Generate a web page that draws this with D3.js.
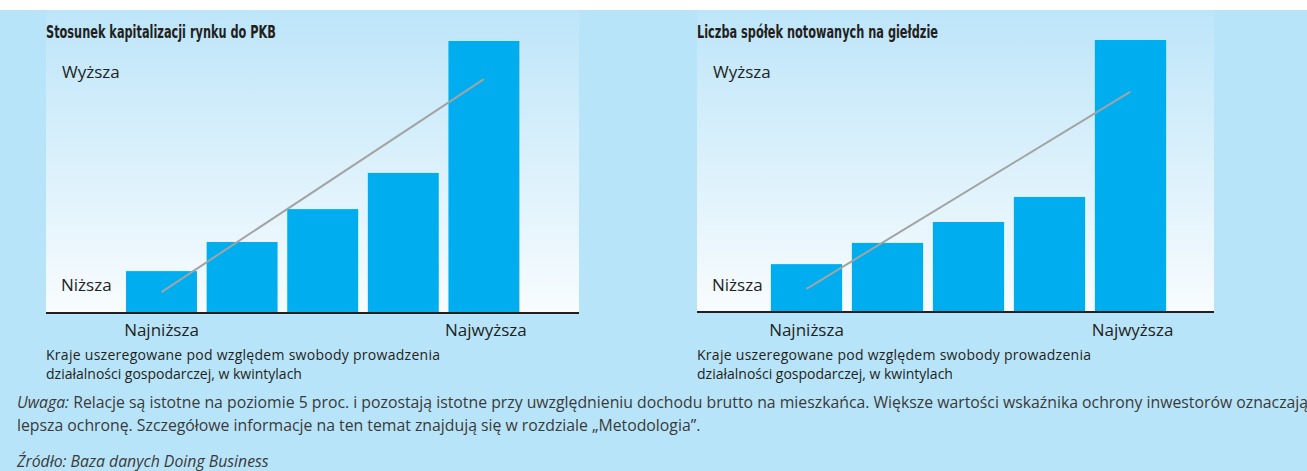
<!DOCTYPE html>
<html>
<head>
<meta charset="utf-8">
<script src="https://cdn.jsdelivr.net/npm/d3@7"></script>
<style>
  body { margin: 0; background: #fff; }
  svg text { font-family: "Open Sans", "Noto Sans", sans-serif; fill: #231f20; }
  .title { font-family: "Liberation Sans Narrow", "DejaVu Sans Condensed", sans-serif; font-weight: bold; font-size: 17px; }
  .note { fill: #3a3a3a; font-size: 15.8px; }
</style>
</head>
<body>
<div id="chart"></div>
<script>
var svgWidth = 1307;
var svgHeight = 471;

// quintiles of ease of doing business
var quintiles = ["Q1", "Q2", "Q3", "Q4", "Q5"];

// left panel: market capitalisation to GDP (relative, max = 100)
var capValues = [15.4, 26.1, 38.2, 51.5, 100];
var capTrend = [7.7, 86];

// right panel: number of listed companies (relative, max = 100)
var listedValues = [17.6, 25.4, 33.1, 42.3, 100];
var listedTrend = [8.5, 81];

var titles = ["Stosunek kapitalizacji rynku do PKB", "Liczba spółek notowanych na giełdzie"];
var yLabels = ["Wyższa", "Niższa"];
var xLabels = ["Najniższa", "Najwyższa"];
var subLines = ["Kraje uszeregowane pod względem swobody prowadzenia",
	"działalności gospodarczej, w kwintylach"];

var svg = d3.select("#chart")
	.append("svg")
	.attr("width", svgWidth)
	.attr("height", svgHeight);

var defs = svg.append("defs");
var grad = defs.append("linearGradient")
	.attr("id", "panelGrad")
	.attr("x1", 0).attr("y1", 0).attr("x2", 0).attr("y2", 1);
grad.append("stop").attr("offset", "0%").attr("stop-color", "#bde5f9");
grad.append("stop").attr("offset", "100%").attr("stop-color", "#f8fcfe");

// page background
svg.append("rect")
	.attr("x", 0).attr("y", 10)
	.attr("width", svgWidth).attr("height", svgHeight - 10)
	.attr("fill", "#b8e4f9");

var panels = [
	{ left: 46, right: 579, baseY: 313, barRange: [121.2, 524.2], values: capValues, trend: capTrend, title: titles[0], titleW: 230 },
	{ left: 697, right: 1214, baseY: 312, barRange: [766, 1171], values: listedValues, trend: listedTrend, title: titles[1], titleW: 241 }
];

panels.forEach(function(p) {
	var g = svg.append("g");

	g.append("rect")
		.attr("x", p.left).attr("y", 10)
		.attr("width", p.right - p.left)
		.attr("height", p.baseY - 10)
		.attr("fill", "url(#panelGrad)");

	var x = d3.scaleBand()
		.domain(quintiles)
		.range(p.barRange)
		.paddingInner(0.12)
		.paddingOuter(0.06);

	var y = d3.scaleLinear()
		.domain([0, 100])
		.range([p.baseY, p.baseY - 272]);

	g.selectAll(".bar")
		.data(p.values)
		.enter()
		.append("rect")
		.attr("x", (d, i) => x(quintiles[i]))
		.attr("y", d => y(d))
		.attr("width", x.bandwidth())
		.attr("height", d => p.baseY - y(d))
		.attr("fill", "#00aeef");

	var line = d3.line()
		.x((d, i) => x(quintiles[i === 0 ? 0 : 4]) + x.bandwidth() / 2)
		.y(d => y(d));

	g.append("path")
		.datum(p.trend)
		.attr("d", line)
		.attr("stroke", "#a3a3a3")
		.attr("stroke-width", 2)
		.attr("fill", "none");

	g.append("line")
		.attr("x1", p.left).attr("x2", p.right)
		.attr("y1", p.baseY).attr("y2", p.baseY)
		.attr("stroke", "#231f20")
		.attr("stroke-width", 2);

	g.append("text")
		.attr("class", "title")
		.attr("x", p.left)
		.attr("y", 38)
		.attr("textLength", p.titleW)
		.attr("lengthAdjust", "spacingAndGlyphs")
		.text(p.title);

	g.append("text")
		.attr("x", p.left + 16)
		.attr("y", 78)
		.attr("font-size", "17px")
		.text(yLabels[0]);

	g.append("text")
		.attr("x", p.left + 15)
		.attr("y", 291)
		.attr("font-size", "17px")
		.text(yLabels[1]);

	g.append("text")
		.attr("x", x(quintiles[0]) + x.bandwidth() / 2)
		.attr("y", 336)
		.attr("text-anchor", "middle")
		.attr("font-size", "17px")
		.text(xLabels[0]);

	g.append("text")
		.attr("x", x(quintiles[4]) + x.bandwidth() / 2 + 2)
		.attr("y", 336)
		.attr("text-anchor", "middle")
		.attr("font-size", "17px")
		.text(xLabels[1]);

	subLines.forEach(function(s, i) {
		g.append("text")
			.attr("x", p.left)
			.attr("y", 360 + i * 19)
			.attr("font-size", "14px")
			.attr("textLength", i === 0 ? 394 : null)
			.attr("lengthAdjust", "spacing")
			.text(s);
	});
});

// footnote
var note1 = svg.append("text").attr("class", "note").attr("x", 17).attr("y", 408);
note1.append("tspan").attr("font-style", "italic").text("Uwaga:");
note1.append("tspan").text(" Relacje są istotne na poziomie 5 proc. i pozostają istotne przy uwzględnieniu dochodu brutto na mieszkańca. Większe wartości wskaźnika ochrony inwestorów oznaczają");

svg.append("text").attr("class", "note").attr("x", 17).attr("y", 431)
	.text("lepsza ochronę. Szczegółowe informacje na ten temat znajdują się w rozdziale „Metodologia”.");

svg.append("text").attr("class", "note").attr("x", 17).attr("y", 467)
	.attr("font-style", "italic")
	.text("Źródło: Baza danych Doing Business");
</script>
</body>
</html>
